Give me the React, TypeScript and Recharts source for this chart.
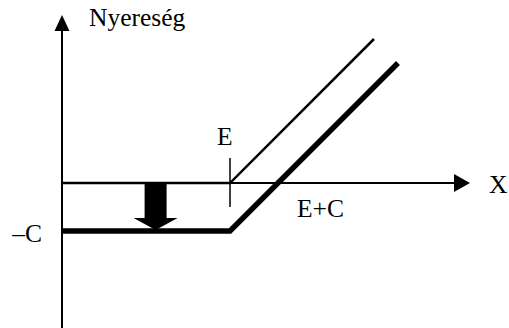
import { LineChart, Line, XAxis, YAxis, ReferenceLine, ReferenceDot, Label } from 'recharts';

// payoff without premium and profit after paying premium C (E = 3.5, C = 1)
const payoff = [
  { x: 0, y: 0 },
  { x: 3.5, y: 0 },
  { x: 6.5, y: 3 },
];
const profit = [
  { x: 0, y: -1 },
  { x: 3.5, y: -1 },
  { x: 7, y: 2.5 },
];
const strikeX = 3.5;
const breakEvenX = 4.5;
const shiftArrowX = 1.95;
const xMax = 8.5;
const yTicks = [-1];
const yTickLabels = ['–C'];
const strikeLabel = 'E';
const breakEvenLabel = 'E+C';
const xAxisLabel = 'X';
const yAxisLabel = 'Nyereség';

const FONT = "'Liberation Serif', 'Times New Roman', serif";
const FONT_SIZE = 25.5;

function text(value: string, dx: number, dy: number, anchor = 'start') {
  return (props: any) => {
    const vb = props.viewBox || {};
    return (
      <text
        x={vb.x + dx}
        y={vb.y + dy}
        textAnchor={anchor}
        fontFamily={FONT}
        fontSize={FONT_SIZE}
        fill="#000"
      >
        {value}
      </text>
    );
  };
}

function XArrowAxis(props: any) {
  const { x1, x2, y1 } = props;
  const left = Math.min(x1, x2);
  const right = Math.max(x1, x2);
  return (
    <g>
      <line x1={left} y1={y1} x2={right - 14} y2={y1} stroke="#000" strokeWidth={2} />
      <polygon
        points={`${right},${y1} ${right - 16},${y1 - 9} ${right - 16},${y1 + 9}`}
        fill="#000"
      />
    </g>
  );
}

function YArrowAxis(props: any) {
  const { x1, y1, y2 } = props;
  const top = Math.min(y1, y2);
  const bottom = Math.max(y1, y2);
  return (
    <g>
      <line x1={x1} y1={bottom} x2={x1} y2={top + 14} stroke="#000" strokeWidth={2} />
      <polygon
        points={`${x1},${top} ${x1 - 7.5},${top + 16} ${x1 + 7.5},${top + 16}`}
        fill="#000"
      />
    </g>
  );
}

function ShiftArrow(props: any) {
  const { x1, y1, y2 } = props;
  const top = Math.min(y1, y2);
  const bottom = Math.max(y1, y2) - 1;
  const shaft = 11;
  const head = 22;
  const headLen = 12;
  const pts = [
    [x1 - shaft, top],
    [x1 + shaft, top],
    [x1 + shaft, bottom - headLen],
    [x1 + head, bottom - headLen],
    [x1, bottom],
    [x1 - head, bottom - headLen],
    [x1 - shaft, bottom - headLen],
  ];
  return <polygon points={pts.map((p) => p.join(',')).join(' ')} fill="#000" />;
}

function YTick(props: any) {
  const { x, y, payload } = props;
  const i = yTicks.indexOf(payload.value);
  return (
    <text x={x} y={y + 11} textAnchor="end" fontFamily={FONT} fontSize={FONT_SIZE} fill="#000">
      {yTickLabels[i]}
    </text>
  );
}

export default function App() {
  return (
    <div style={{ position: 'absolute', left: 0, top: 0, background: '#fff' }}>
      <LineChart width={509} height={328} margin={{ top: 15, right: 39, bottom: 0, left: 0 }}>
        <XAxis type="number" dataKey="x" domain={[0, xMax]} hide allowDataOverflow />
        <YAxis
          type="number"
          dataKey="y"
          domain={[-3.02, 3.5]}
          allowDataOverflow
          width={62}
          ticks={yTicks}
          axisLine={false}
          tickLine={false}
          tickSize={0}
          tickMargin={20}
          tick={<YTick />}
        />
        <ReferenceLine y={0} shape={XArrowAxis} />
        <ReferenceDot x={xMax} y={0} r={0} stroke="none" fill="none">
          <Label content={text(xAxisLabel, 19, 10)} />
        </ReferenceDot>
        <ReferenceLine
          segment={[
            { x: 0, y: -3.02 },
            { x: 0, y: 3.5 },
          ]}
          shape={YArrowAxis}
        >
          <Label content={text(yAxisLabel, 27, 11)} />
        </ReferenceLine>
        <ReferenceLine
          segment={[
            { x: strikeX, y: 0.52 },
            { x: strikeX, y: -0.5 },
          ]}
          stroke="#000"
          strokeWidth={1.5}
        >
          <Label content={text(strikeLabel, -13, -13)} />
        </ReferenceLine>
        <ReferenceLine
          segment={[
            { x: shiftArrowX, y: 0 },
            { x: shiftArrowX, y: -1 },
          ]}
          shape={ShiftArrow}
        />
        <ReferenceDot x={breakEvenX} y={0} r={0} stroke="none" fill="none">
          <Label content={text(breakEvenLabel, 19, 34)} />
        </ReferenceDot>
        <Line
          data={payoff}
          dataKey="y"
          type="linear"
          stroke="#000"
          strokeWidth={2.5}
          dot={false}
          isAnimationActive={false}
        />
        <Line
          data={profit}
          dataKey="y"
          type="linear"
          stroke="#000"
          strokeWidth={5.5}
          dot={false}
          isAnimationActive={false}
        />
      </LineChart>
    </div>
  );
}
